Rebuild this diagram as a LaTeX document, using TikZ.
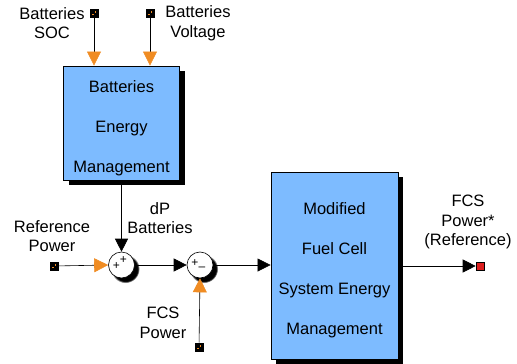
\documentclass[tikz,border=0pt]{standalone}
\usepackage{fontspec}
\setmainfont{Liberation Sans}
\usetikzlibrary{arrows.meta, positioning, shadows}
\definecolor{blockblue}{RGB}{125,187,255}
\definecolor{portorange}{RGB}{240,140,35}
\definecolor{portred}{RGB}{220,30,30}

\begin{document}
\begin{tikzpicture}[x=1pt, y=-1pt, >={Triangle[length=13pt, width=13pt]}, semithick,
  block/.style={rectangle, draw=black, thick, fill=blockblue, inner sep=0pt,
    drop shadow={shadow xshift=5pt, shadow yshift=-5pt, fill=black, opacity=1}},
  blocktext/.style={align=center, font=\fontsize{16.5}{40}\selectfont},
  lbl/.style={align=center, font=\fontsize{16.5}{19.5}\selectfont},
  sum/.style={circle, draw=black, fill=white, minimum size=26pt, inner sep=0pt,
    circular drop shadow={shadow xshift=3.5pt, shadow yshift=-3.5pt, fill=black, opacity=1}},
  sign/.style={font=\fontsize{12}{12}\selectfont, inner sep=0pt},
  inport/.style={rectangle, draw=black, fill=black, minimum size=8pt, inner sep=0pt,
    path picture={\fill[portorange] ([xshift=0.5pt,yshift=0.5pt]path picture bounding box.center) rectangle ++(1.5pt,1.5pt);
      \fill[portorange] ([xshift=-0.5pt,yshift=-0.5pt]path picture bounding box.center) rectangle ++(-1.5pt,-1.5pt);}},
  outport/.style={rectangle, draw=black, fill=portred, minimum size=8pt, inner sep=0pt},
  orangetip/.style={-{Triangle[length=14pt, width=14pt, color=portorange]}}]
  \useasboundingbox (0,0) rectangle (517,364);

  % blocks
  \node[block, minimum width=116pt, minimum height=114pt] (batt) at (121.5,123) {};
  \node[blocktext] (batttext) at ([yshift=-5pt]batt.center) {Batteries\\Energy\\Management};
  \node[block, minimum width=127pt, minimum height=187pt] (fcsems) at (334.5,265.5) {};
  \node[blocktext] (fcstext) at ([yshift=-4.5pt]fcsems.center) {Modified\\Fuel Cell\\System Energy\\Management};

  % sums
  \node[sum, label={[sign, xshift=-5pt, yshift=-1pt]center:+}, label={[sign, xshift=2pt, yshift=5pt]center:+}] (sum1) at (121.5,265) {};
  \node[sum, label={[sign, xshift=-5pt, yshift=2pt]center:+}, label={[sign, xshift=2pt, yshift=-4pt]center:--}] (sum2) at (200,265) {};

  % ports
  \node[inport] (socin) at (94,13) {};
  \node[inport] (voltin) at (150,13) {};
  \node[inport] (refin) at (54,266) {};
  \node[inport] (fcsin) at (199,347) {};
  \node[outport] (refout) at (480,266) {};

  % labels
  \node[lbl] (soclbl) at (52,23) {Batteries\\SOC};
  \node[lbl] (voltlbl) at (198,23) {Batteries\\Voltage};
  \node[lbl] (reflbl) at (52,236) {Reference\\Power};
  \node[lbl] (dplbl) at (160,218) {dP\\Batteries};
  \node[lbl] (fcslbl) at (163,323) {FCS\\Power};
  \node[lbl] (outlbl) at (468,222) {FCS\\Power*\\(Reference)};

  % connections
  \draw[orangetip] (socin) -- (socin |- batt.north);
  \draw[orangetip] (voltin) -- (voltin |- batt.north);
  \draw[orangetip] (refin) -- (sum1.west);
  \draw[orangetip] (fcsin) -- (sum2.south);
  \draw[->] (batt.south) -- (sum1.north);
  \draw[->] (sum1.east) -- (sum2.west);
  \draw[->] (sum2.east) -- (fcsems.west |- sum2.east);
  \draw[->] (fcsems.east |- refout) -- (refout.west);
\end{tikzpicture}
\end{document}
